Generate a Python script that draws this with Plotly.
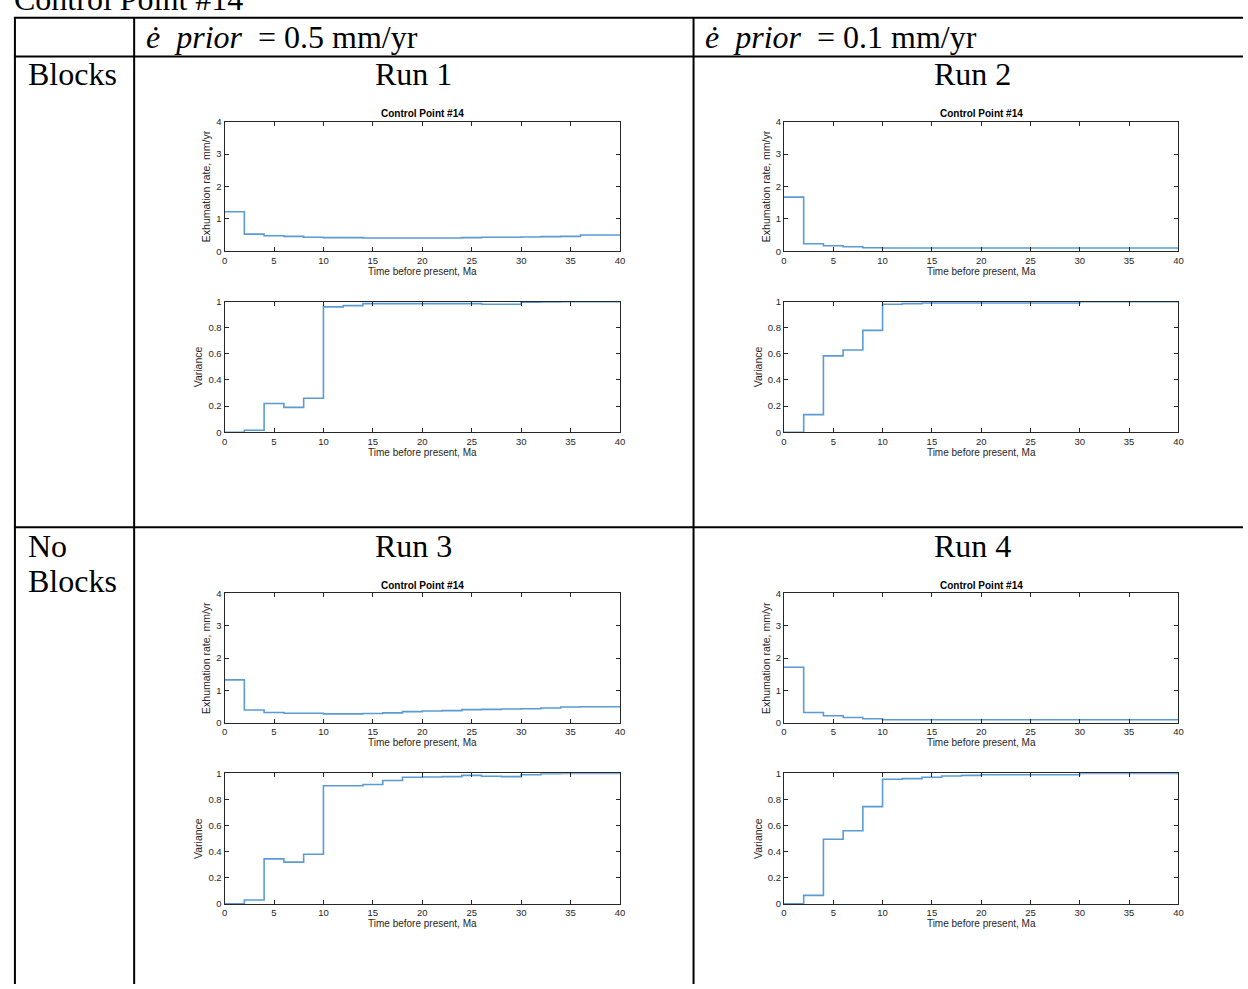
import plotly.graph_objects as go

W, H = 1248, 989

# ---------------- data ----------------
time_edges = [0, 2, 4, 6, 8, 10, 12, 14, 16, 18, 20, 22, 24, 26, 28, 30, 32, 34, 36, 38, 40]

run1_rate = [1.22, 0.53, 0.48, 0.46, 0.43, 0.42, 0.42, 0.41, 0.41, 0.41,
             0.41, 0.41, 0.42, 0.43, 0.43, 0.44, 0.45, 0.46, 0.50, 0.50]
run1_var = [0.0, 0.015, 0.22, 0.19, 0.26, 0.96, 0.97, 0.985, 0.985, 0.985,
            0.985, 0.985, 0.985, 0.98, 0.98, 0.995, 0.997, 1.0, 1.0, 1.0]

run2_rate = [1.67, 0.23, 0.17, 0.14, 0.11, 0.10, 0.10, 0.10, 0.10, 0.10,
             0.10, 0.10, 0.10, 0.10, 0.10, 0.10, 0.10, 0.10, 0.10, 0.10]
run2_var = [0.0, 0.135, 0.585, 0.63, 0.78, 0.98, 0.985, 0.99, 0.99, 0.99,
            0.99, 0.99, 0.99, 0.99, 0.99, 1.0, 1.0, 1.0, 1.0, 1.0]

run3_rate = [1.33, 0.40, 0.32, 0.30, 0.30, 0.28, 0.28, 0.29, 0.31, 0.35,
             0.37, 0.38, 0.41, 0.42, 0.43, 0.44, 0.46, 0.49, 0.50, 0.50]
run3_var = [0.0, 0.03, 0.345, 0.32, 0.38, 0.905, 0.905, 0.915, 0.945, 0.97,
            0.972, 0.975, 0.985, 0.978, 0.975, 0.99, 0.997, 1.0, 1.0, 1.0]

run4_rate = [1.72, 0.32, 0.22, 0.17, 0.13, 0.10, 0.10, 0.10, 0.10, 0.10,
             0.10, 0.10, 0.10, 0.10, 0.10, 0.10, 0.10, 0.10, 0.10, 0.10]
run4_var = [0.0, 0.065, 0.495, 0.56, 0.745, 0.955, 0.96, 0.97, 0.98, 0.985,
            0.99, 0.99, 0.99, 0.99, 0.99, 1.0, 1.0, 1.0, 1.0, 1.0]

runs = [run1_rate, run1_var, run2_rate, run2_var,
        run3_rate, run3_var, run4_rate, run4_var]

col_headers = ["<i>ė  prior</i>&nbsp; = 0.5 mm/yr", "<i>ė  prior</i>&nbsp; = 0.1 mm/yr"]
row_labels = [["Blocks"], ["No", "Blocks"]]
run_labels = ["Run 1", "Run 2", "Run 3", "Run 4"]
plot_title = "Control Point #14"
rate_label = "Exhumation rate, mm/yr"
var_label = "Variance"
time_label = "Time before present, Ma"
caption = "Control Point #14"

# ---------------- layout helpers ----------------
def px_x(x):
    return x / W

def px_y(y):
    return 1 - y / H

col_x = [(223, 621), (786, 1183)]
row_y = [[(117, 248), (299, 431)], [(594, 725), (776, 908)]]

LINE = "#5b9bd5"
AXC = "#262626"
SANS = "Liberation Sans, Arial, sans-serif"
SERIF = "Liberation Serif, Times New Roman, serif"

fig = go.Figure()
layout = dict(width=W, height=H, margin=dict(l=0, r=0, t=0, b=0),
              paper_bgcolor="white", plot_bgcolor="white", showlegend=False)

annotations = []
shapes = []

idx = 0
for r in range(2):
    for c in range(2):
        for k in range(2):
            idx += 1
            vals = runs[(r * 2 + c) * 2 + k]
            xl, xr = col_x[c]
            yt, yb = row_y[r][k]
            xa = "xaxis" if idx == 1 else f"xaxis{idx}"
            ya = "yaxis" if idx == 1 else f"yaxis{idx}"
            common = dict(showline=True, mirror="ticks", linecolor=AXC, linewidth=1,
                          ticks="inside", ticklen=4, tickcolor=AXC,
                          showgrid=False, zeroline=False,
                          tickfont=dict(family=SANS, size=9.5, color=AXC))
            layout[xa] = dict(common, domain=[px_x(xl), px_x(xr)], range=[0, 40],
                              tickmode="array", tickvals=list(range(0, 41, 5)),
                              anchor=f"y{idx}" if idx > 1 else "y",
                              title=dict(text=time_label, standoff=1,
                                         font=dict(family=SANS, size=10, color=AXC)))
            if k == 0:
                yrange = [0, 4]
                tv = [0, 1, 2, 3, 4]
                tt = ["0", "1", "2", "3", "4"]
                ytitle = rate_label
            else:
                yrange = [0, 1]
                tv = [0, 0.2, 0.4, 0.6, 0.8, 1]
                tt = ["0", "0.2", "0.4", "0.6", "0.8", "1"]
                ytitle = var_label
            layout[ya] = dict(common, domain=[px_y(yb), px_y(yt)], range=yrange,
                              tickmode="array", tickvals=tv, ticktext=tt,
                              anchor=f"x{idx}" if idx > 1 else "x",
                              title=dict(text=ytitle, standoff=3,
                                         font=dict(family=SANS, size=10.5, color=AXC)))
            fig.add_trace(go.Scatter(
                x=time_edges, y=vals + [vals[-1]], mode="lines",
                line=dict(color=LINE, width=1.6, shape="hv"),
                xaxis=f"x{idx}" if idx > 1 else "x",
                yaxis=f"y{idx}" if idx > 1 else "y",
                hoverinfo="skip"))
            if k == 0:
                annotations.append(dict(
                    text=f"<b>{plot_title}</b>", x=px_x((xl + xr) / 2), y=px_y(yt - 8),
                    xref="paper", yref="paper", showarrow=False,
                    xanchor="center", yanchor="middle",
                    font=dict(family=SANS, size=10, color="black")))

# ---------------- table text ----------------
BIG = 32
annotations.append(dict(text=caption, x=px_x(9), y=px_y(-7), xref="paper", yref="paper",
                        showarrow=False, xanchor="left", yanchor="middle",
                        font=dict(family=SERIF, size=BIG, color="black")))
for c, hx in enumerate([142, 705]):
    annotations.append(dict(text=col_headers[c], x=px_x(hx), y=px_y(31),
                            xref="paper", yref="paper", showarrow=False,
                            xanchor="left", yanchor="middle",
                            font=dict(family=SERIF, size=BIG, color="black")))
row_text_y = [[69], [546, 581]]
for r in range(2):
    for t, ty in zip(row_labels[r], row_text_y[r]):
        annotations.append(dict(text=t, x=px_x(23), y=px_y(ty),
                                xref="paper", yref="paper", showarrow=False,
                                xanchor="left", yanchor="middle",
                                font=dict(family=SERIF, size=BIG, color="black")))
run_pos = [(413, 69), (976, 69), (413, 546), (976, 546)]
for lab, (rx, ry) in zip(run_labels, run_pos):
    annotations.append(dict(text=lab, x=px_x(rx), y=px_y(ry),
                            xref="paper", yref="paper", showarrow=False,
                            xanchor="center", yanchor="middle",
                            font=dict(family=SERIF, size=BIG, color="black")))

# ---------------- table rules ----------------
def hline(y, x0=12, x1=W):
    shapes.append(dict(type="line", xref="paper", yref="paper",
                       x0=px_x(x0), x1=px_x(x1), y0=px_y(y), y1=px_y(y),
                       line=dict(color="black", width=2)))

def vline(x, y0=12, y1=H):
    shapes.append(dict(type="line", xref="paper", yref="paper",
                       x0=px_x(x), x1=px_x(x), y0=px_y(y0), y1=px_y(y1),
                       line=dict(color="black", width=2)))

for y in [12, 51, 527]:
    hline(y, 11)
for x in [12, 132, 695]:
    vline(x, 11)

layout["annotations"] = annotations
layout["shapes"] = shapes
fig.update_layout(**layout)
fig.write_html("out.html",
               post_script="document.body.style.margin='0';document.body.style.overflow='hidden';")
